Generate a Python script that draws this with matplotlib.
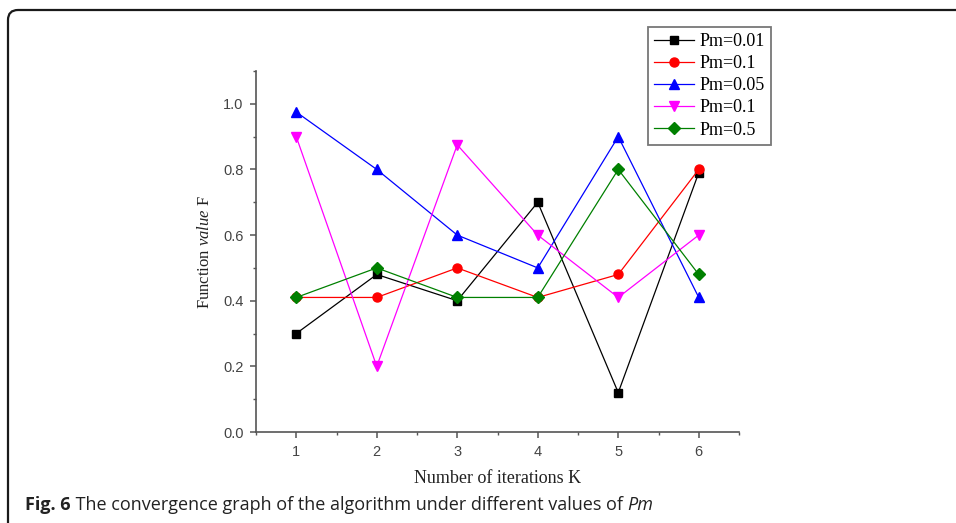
import matplotlib
matplotlib.use("Agg")
import matplotlib.pyplot as plt
from matplotlib.path import Path
from matplotlib.patches import PathPatch
from matplotlib.ticker import MultipleLocator
import matplotlib.transforms as mtransforms

# ---- data ----
iterations = [1, 2, 3, 4, 5, 6]
labels = ["Pm=0.01", "Pm=0.1", "Pm=0.05", "Pm=0.1", "Pm=0.5"]
pm_001 = [0.30, 0.48, 0.40, 0.70, 0.12, 0.79]
pm_01a = [0.41, 0.41, 0.50, 0.41, 0.48, 0.80]
pm_005 = [0.975, 0.80, 0.60, 0.50, 0.90, 0.41]
pm_01b = [0.90, 0.20, 0.875, 0.60, 0.41, 0.60]
pm_05 = [0.41, 0.50, 0.41, 0.41, 0.80, 0.48]
series = [pm_001, pm_01a, pm_005, pm_01b, pm_05]
colors = ["black", "red", "blue", "magenta", "#008000"]
markers = ["s", "o", "^", "v", "D"]
msizes = [6, 6.5, 7, 7, 6]

plt.rcParams["mathtext.fontset"] = "custom"
plt.rcParams["mathtext.rm"] = "Liberation Serif"
plt.rcParams["mathtext.it"] = "Liberation Serif:italic"

W, H = 956, 523
fig = plt.figure(figsize=(W / 100, H / 100), dpi=100)
ax = fig.add_axes([256 / W, 1 - 432 / H, (739 - 256) / W, (432 - 71) / H])

for vals, lab, c, m, ms in zip(series, labels, colors, markers, msizes):
    ax.plot(iterations, vals, color=c, marker=m, markersize=ms, lw=0.9,
            markeredgecolor=c, markerfacecolor=c, label=lab)

ax.set_xlim(0.5, 6.5)
ax.set_ylim(0, 1.1)
ax.set_xticks(iterations)
ax.yaxis.set_major_locator(MultipleLocator(0.2))
ax.yaxis.set_minor_locator(MultipleLocator(0.1))
ax.xaxis.set_minor_locator(MultipleLocator(0.5))
ax.yaxis.set_major_formatter(matplotlib.ticker.FormatStrFormatter("%.1f"))
for s in ["top", "right"]:
    ax.spines[s].set_visible(False)
for s in ["left", "bottom"]:
    ax.spines[s].set_color("#555555")
    ax.spines[s].set_linewidth(1.2)
ax.tick_params(which="major", direction="out", length=4, width=1.1,
               color="#555555", labelcolor="#444444", labelsize=10.5, pad=5)
ax.tick_params(which="minor", direction="out", length=2.5, width=1.0,
               color="#555555")
for t in ax.get_xticklabels() + ax.get_yticklabels():
    t.set_fontfamily("Liberation Sans")

ax.set_xlabel("Number of iterations K", fontfamily="Liberation Serif",
              fontsize=13, labelpad=8, color="#222222")
ax.set_ylabel(r"Function $\mathit{value}$ F", fontfamily="Liberation Serif",
              fontsize=12, labelpad=7, color="#222222")

leg = fig.legend(loc="upper left", bbox_to_anchor=(648 / W, 1 - 27 / H),
                 bbox_transform=fig.transFigure,
                 prop={"family": "Liberation Serif", "size": 13},
                 frameon=True, fancybox=False, handlelength=2.2,
                 labelspacing=0.28, borderpad=0.35, handletextpad=0.3,
                 borderaxespad=0)
leg.get_frame().set_edgecolor("#555555")
leg.get_frame().set_linewidth(1.3)

# ---- outer frame (pixel coords, y down) ----
pix = mtransforms.Affine2D().scale(1, -1).translate(0, H).scale(1 / W, 1 / H) + fig.transFigure
verts = [(8, H + 5), (8, 20), (8, 10), (18, 10), (W + 5, 10)]
codes = [Path.MOVETO, Path.LINETO, Path.CURVE3, Path.CURVE3, Path.LINETO]
frame = PathPatch(Path(verts, codes), transform=pix, fill=False,
                  edgecolor="#1a1a1a", lw=1.6)
fig.patches.append(frame)

# ---- caption ----
renderer = fig.canvas.get_renderer()
x0 = 25 / W
ycap = 1 - 505 / H
parts = [("Fig. 6", "bold", "normal"),
         (" The convergence graph of the algorithm under different values of ", "normal", "normal"),
         ("Pm", "normal", "italic")]
x = x0
for txt, wgt, sty in parts:
    t = fig.text(x, ycap, txt, fontfamily="Open Sans", fontsize=13,
                 fontweight=wgt, fontstyle=sty, va="center", ha="left",
                 color="#222222")
    bb = t.get_window_extent(renderer)
    x = bb.x1 / W

fig.savefig("out.png", dpi=100)
